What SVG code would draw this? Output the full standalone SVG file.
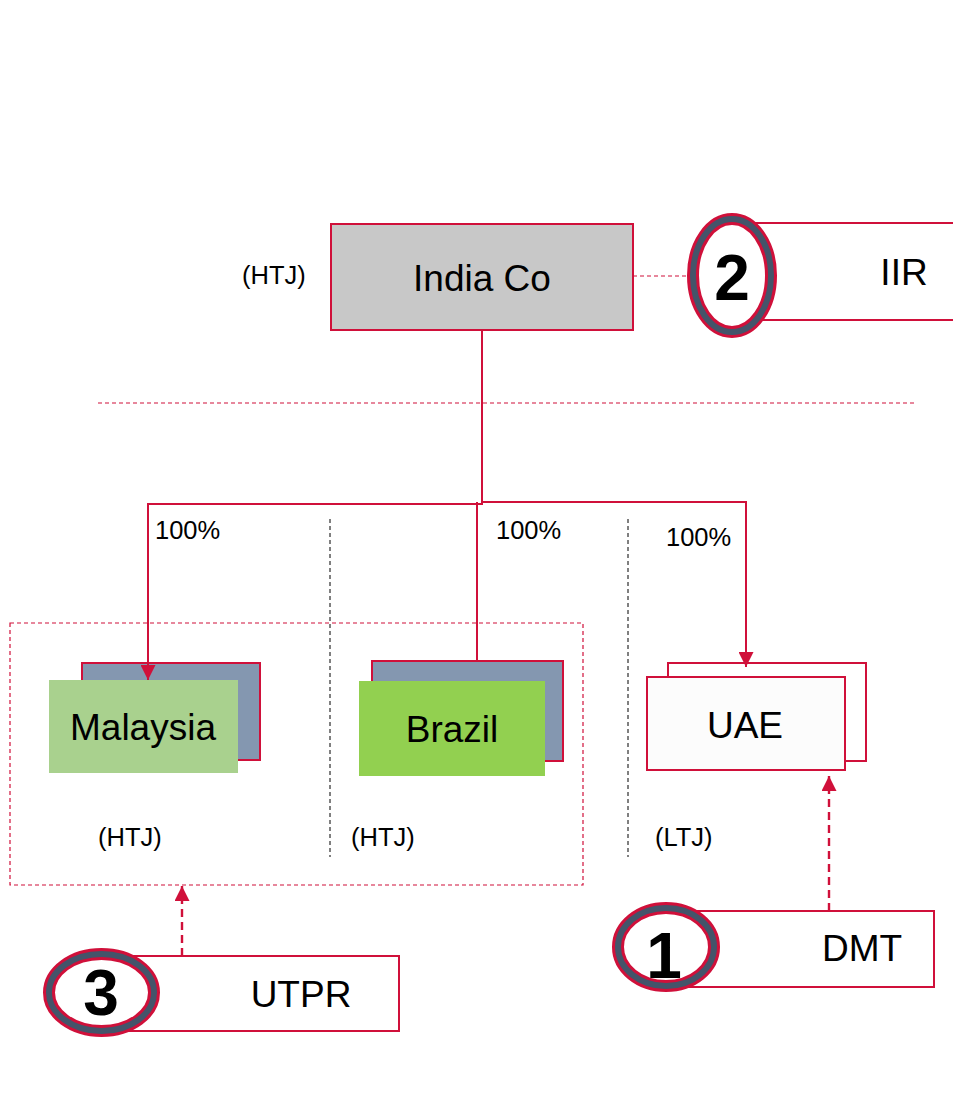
<svg xmlns="http://www.w3.org/2000/svg" width="953" height="1093" viewBox="0 0 953 1093">
  <defs>
    <marker id="arrow" viewBox="0 0 14 14" refX="14" refY="7" markerWidth="15" markerHeight="15" markerUnits="userSpaceOnUse" orient="auto">
      <path d="M0,0 L14,7 L0,14 Z" fill="#d0103a"/>
    </marker>
    <style>
      .lbl { font-family: "Liberation Sans", Arial, sans-serif; fill: #000; }
      .big { font-size: 37px; text-anchor: middle; }
      .small { font-size: 25.5px; }
      .num { font-family: "Liberation Sans", Arial, sans-serif; font-weight: bold; font-size: 64px; text-anchor: middle; fill: #000; }
      .link { fill: none; stroke: #d0103a; stroke-width: 2; }
      .dash { fill: none; stroke: #d0103a; stroke-width: 2.4; stroke-dasharray: 8 5; }
      .thindash { fill: none; stroke: #d0103a; stroke-width: 1.2; stroke-dasharray: 4 3; }
      .sep { fill: none; stroke: #000; stroke-width: 1; stroke-dasharray: 4 3; }
      .box { stroke: #d0103a; stroke-width: 2; }
      .ringOuter { fill: #fff; stroke: #d0103a; stroke-width: 12; }
      .ringInner { fill: none; stroke: #44546a; stroke-width: 6; }
    </style>
  </defs>

  <!-- guide lines and grouping frame -->
  <g id="guides">
    <line class="thindash" x1="98" y1="403" x2="916" y2="403"/>
    <line class="sep" x1="330" y1="519" x2="330" y2="857"/>
    <line class="sep" x1="628" y1="519" x2="628" y2="857"/>
    <rect class="thindash" x="10" y="623" width="573" height="262"/>
  </g>

  <g id="india-co">
    <rect class="box" x="331" y="224" width="302" height="106" fill="#c8c8c8"/>
    <text class="lbl big" x="482" y="291">India Co</text>
    <text class="lbl small" x="242" y="284">(HTJ)</text>
  </g>

  <g id="malaysia">
    <rect class="box" x="82" y="663" width="178" height="97" fill="#8497b0"/>
    <rect x="49" y="680" width="189" height="93" fill="#a9d18e"/>
    <text class="lbl big" x="143" y="740">Malaysia</text>
    <text class="lbl small" x="155" y="539">100%</text>
    <text class="lbl small" x="98" y="846">(HTJ)</text>
  </g>

  <g id="brazil">
    <rect class="box" x="372" y="661" width="191" height="100" fill="#8497b0"/>
    <rect x="359" y="681" width="186" height="95" fill="#92d050"/>
    <text class="lbl big" x="452" y="742">Brazil</text>
    <text class="lbl small" x="496" y="539">100%</text>
    <text class="lbl small" x="351" y="846">(HTJ)</text>
  </g>

  <g id="uae">
    <rect class="box" x="668" y="663" width="198" height="98" fill="#fff"/>
    <rect class="box" x="647" y="677" width="198" height="93" fill="#fcfcfc"/>
    <text class="lbl big" x="745" y="738">UAE</text>
    <text class="lbl small" x="666" y="546">100%</text>
    <text class="lbl small" x="655" y="846">(LTJ)</text>
  </g>

  <!-- ownership and rule connectors -->
  <g id="connectors">
    <polyline class="link" points="482,330 482,504 148,504 148,680" marker-end="url(#arrow)"/>
    <polyline class="link" points="482,502 746,502 746,667" marker-end="url(#arrow)"/>
    <line class="link" x1="477" y1="502" x2="477" y2="661"/>
    <line class="thindash" x1="633" y1="276" x2="690" y2="276"/>
    <line class="dash" x1="829" y1="911" x2="829" y2="776" marker-end="url(#arrow)"/>
    <line class="dash" x1="182" y1="956" x2="182" y2="886" marker-end="url(#arrow)"/>
  </g>

  <g id="rule-iir">
    <rect class="box" x="732" y="223" width="240" height="97" fill="#fff"/>
    <ellipse class="ringOuter" cx="732" cy="275.5" rx="39" ry="56.5"/>
    <ellipse class="ringInner" cx="732" cy="275.5" rx="39" ry="56.5"/>
    <text class="num" x="732" y="300">2</text>
    <text class="lbl big" x="904" y="285">IIR</text>
  </g>

  <g id="rule-dmt">
    <rect class="box" x="666" y="911" width="268" height="76" fill="#fff"/>
    <ellipse class="ringOuter" cx="666" cy="947" rx="48" ry="39"/>
    <ellipse class="ringInner" cx="666" cy="947" rx="48" ry="39"/>
    <text class="num" x="664" y="978">1</text>
    <text class="lbl big" x="862" y="961">DMT</text>
  </g>

  <g id="rule-utpr">
    <rect class="box" x="101" y="956" width="298" height="75" fill="#fff"/>
    <ellipse class="ringOuter" cx="101.5" cy="992.5" rx="52.5" ry="38.5"/>
    <ellipse class="ringInner" cx="101.5" cy="992.5" rx="52.5" ry="38.5"/>
    <text class="num" x="101" y="1015">3</text>
    <text class="lbl big" x="301" y="1007">UTPR</text>
  </g>
</svg>
